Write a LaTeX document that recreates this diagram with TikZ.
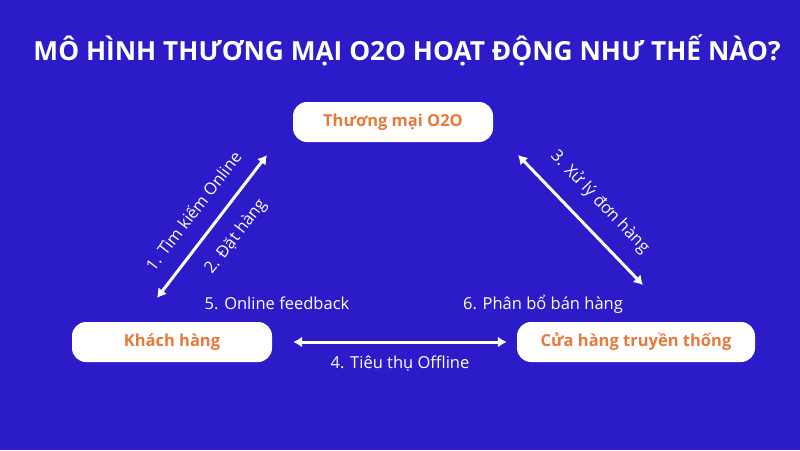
\documentclass[tikz,border=0pt]{standalone}
\usepackage{fontspec}
\setmainfont{Open Sans}
\usetikzlibrary{arrows.meta}
\definecolor{nen}{RGB}{43,27,201}
\definecolor{cam}{RGB}{232,121,58}

\begin{document}
\begin{tikzpicture}[x=1pt, y=-1pt,
	hop/.style={fill=white, rounded corners=14pt, minimum height=40pt, text=cam, font=\fontsize{16.5}{19}\selectfont\bfseries},
	nhan/.style={text=white, font=\fontsize{16.5}{19}\selectfont},
	muiten/.style={white, line width=3pt, {Latex[length=9pt,width=11pt]}-{Latex[length=9pt,width=11pt]}}]
	\fill[nen] (0,0) rectangle (800,450);
	\useasboundingbox (0,0) rectangle (800,450);
	\node[text=white, font=\fontsize{26.3}{30}\selectfont\bfseries] (tieude) at (407,50) {MÔ HÌNH THƯƠNG MẠI O2O HOẠT ĐỘNG NHƯ THẾ NÀO?};
	% ba hop
	\node[hop, minimum width=200pt] (o2o) at (393,122) {Thương mại O2O};
	\node[hop, minimum width=200pt] (khach) at (172,342) {Khách hàng};
	\node[hop, minimum width=238pt] (cuahang) at (636,342) {Cửa hàng truyền thống};
	% dau mui ten cheo
	\coordinate (t1) at (157,298);
	\coordinate (d1) at (267,155);
	\coordinate (t3) at (518,155);
	\coordinate (d3) at (643,285);
	\draw[muiten] (t1) -- (d1);
	\draw[muiten] (t3) -- (d3);
	\draw[muiten, shorten <=21pt, shorten >=10pt] (khach.east) -- (cuahang.west);
	% nhan
	\node[nhan, rotate=52.4] (b1) at (193,211) {1. Tìm kiếm Online};
	\node[nhan, rotate=52.4] (b2) at (236,237) {2. Đặt hàng};
	\node[nhan, rotate=-46.1] (b3) at (600,202) {3. Xử lý đơn hàng};
	\node[nhan] (b4) at (400,364) {4. Tiêu thụ Offline};
	\node[nhan] (b5) at (277,303) {5. Online feedback};
	\node[nhan] (b6) at (543,304) {6. Phân bổ bán hàng};
\end{tikzpicture}
\end{document}
